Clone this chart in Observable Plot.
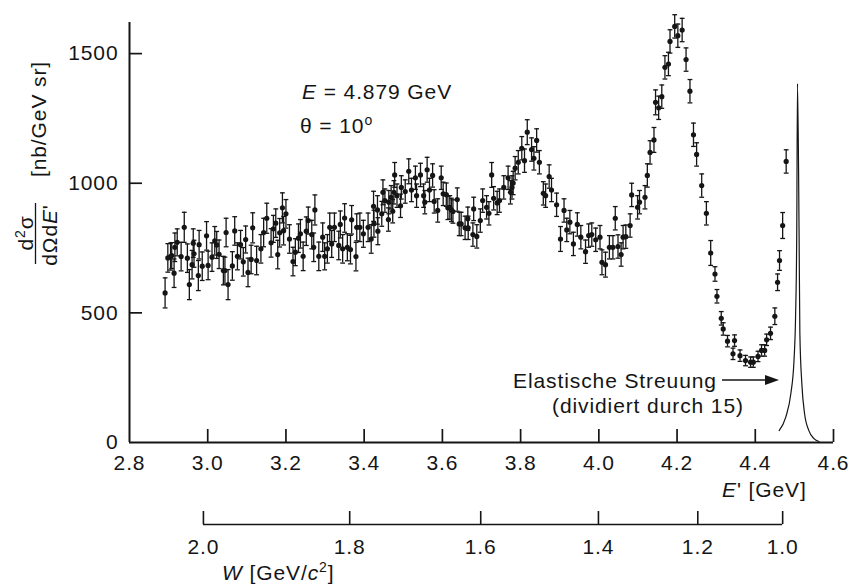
<!DOCTYPE html>
<html><head><meta charset="utf-8">
<script src="https://cdn.jsdelivr.net/npm/d3@7"></script>
<script src="https://cdn.jsdelivr.net/npm/@observablehq/plot@0.6"></script>
<style>
html,body{margin:0;padding:0;background:#fff;}
#chart svg{display:block}
</style>
</head><body><div id="chart"></div>
<script>
// Measured points: scattered energy E' [GeV], cross-section [nb/GeV sr], error bar half-length
const ePrime = [
2.891,2.898,2.905,2.908,2.914,2.916,2.922,2.932,2.940,2.948,
2.953,2.960,2.963,2.965,2.976,2.978,2.986,2.997,3.001,3.011,
3.018,3.023,3.029,3.040,3.044,3.047,3.052,3.063,3.069,3.076,
3.084,3.091,3.097,3.103,3.111,3.115,3.125,3.136,3.143,3.151,
3.162,3.168,3.174,3.179,3.184,3.191,3.194,3.200,3.209,3.218,
3.224,3.232,3.237,3.244,3.252,3.257,3.266,3.271,3.274,3.284,
3.294,3.299,3.306,3.312,3.317,3.324,3.335,3.339,3.345,3.350,
3.357,3.365,3.368,3.379,3.381,3.389,3.398,3.410,3.418,3.424,
3.425,3.434,3.435,
3.445,3.448,3.453,3.462,3.463,3.469,3.473,3.476,3.478,3.484,
3.493,3.495,3.505,3.514,3.521,3.531,3.534,3.544,3.552,3.555,
3.561,3.567,3.575,3.579,3.588,3.597,3.602,3.610,3.614,3.619,
3.623,3.627,3.638,3.643,3.648,3.658,3.665,3.666,3.678,3.680,
3.688,3.697,3.703,3.713,3.719,3.726,3.731,3.740,3.746,3.757,
3.768,3.774,3.778,3.781,3.786,3.794,3.803,3.810,3.817,3.828,
3.834,3.841,3.848,3.858,3.864,3.873,3.879,3.892,3.902,3.911,
3.918,3.926,3.935,3.945,3.954,3.966,3.974,3.982,3.992,4.003,
4.008,4.017,4.027,4.036,4.042,4.049,4.057,4.062,4.069,4.080,
4.084,4.099,4.104,4.118,4.124,4.131,
4.141,4.145,4.153,4.161,4.169,4.178,4.182,4.194,4.202,4.213,
4.223,4.233,4.242,4.250,4.263,4.275,4.286,4.297,4.302,4.313,
4.318,4.329,4.343,4.347,4.361,4.375,4.388,4.395,4.407,4.416,
4.424,4.429,4.439,4.450,4.457,4.462,4.470,4.479
];
const sigma = [
577,712,717,721,653,753,772,717,830,711,
609,686,769,728,644,763,680,797,683,715,
778,762,726,663,663,810,609,681,816,718,
763,697,783,656,706,828,702,747,810,865,
770,824,846,725,809,905,817,882,785,698,
734,788,805,718,815,856,802,753,897,718,
792,718,747,830,766,830,760,841,747,866,
753,744,859,717,830,830,805,830,785,911,
844,897,815,
882,965,933,860,927,946,892,965,1032,952,
913,984,968,1046,974,1021,952,1032,952,927,
1052,974,1030,930,895,1021,959,956,905,907,
897,891,937,843,843,828,863,828,802,901,
795,856,933,907,884,1032,942,924,933,984,
1021,965,984,1001,1058,1081,1135,1087,1197,1130,
1096,1165,1081,961,952,1026,974,917,785,895,
820,850,766,841,792,736,798,802,782,792,
695,686,753,753,865,756,725,792,794,837,
955,907,927,946,1030,1119,
1167,1312,1291,1334,1447,1460,1547,1605,1569,1591,
1477,1355,1187,1111,991,884,731,650,564,479,
438,391,342,393,335,316,310,310,332,355,
355,396,421,487,618,702,837,1084
];
const sigmaErr = [
58,55,52,50,55,55,52,55,58,55,
58,55,55,52,58,55,55,55,55,55,
55,52,55,55,52,55,58,55,55,52,
55,55,52,55,55,58,55,55,55,58,
55,52,55,55,55,58,55,55,55,55,
52,55,55,55,55,52,55,55,58,55,
55,52,55,55,52,55,55,52,55,55,
52,55,55,55,52,55,52,55,55,58,
52,55,52,
48,48,45,45,45,45,45,45,48,45,
45,45,45,48,45,45,45,45,45,45,
48,45,45,45,45,45,45,45,45,45,
45,45,45,45,45,45,45,45,45,45,
45,45,45,45,45,48,45,45,45,45,
45,45,45,45,45,45,45,45,48,45,
45,45,45,45,45,45,45,45,48,45,
45,45,45,45,45,45,45,45,45,45,
48,48,45,45,45,45,45,45,45,45,
45,45,45,45,45,45,
48,48,45,45,45,45,45,45,45,45,
45,45,45,45,45,45,48,28,26,26,
24,22,22,22,22,20,20,20,20,22,
22,22,24,32,32,38,50,45
];

// Elastic scattering peak (divided by 15)
const elasticE     = [4.461,4.478,4.491,4.499,4.503,4.506,4.508,4.512,4.514,4.519,4.526,4.537,4.550,4.563];
const elasticSigma = [46,98,189,316,483,806,1384,806,420,228,112,46,15,4];

// Axis ticks
const xTicks = [2.8,3.0,3.2,3.4,3.6,3.8,4.0,4.2,4.4,4.6];
const yTicks = [0,500,1000,1500];
// Secondary axis: invariant mass W and the E' where each W tick sits
const wLabels = ["2.0","1.8","1.6","1.4","1.2","1.0"];
const wTickE  = [2.989,3.363,3.698,3.999,4.253,4.470];

const idx = d3.range(ePrime.length);
const cap = {draw(ctx){ ctx.moveTo(-2.4,0); ctx.lineTo(2.4,0); }};
const ink = "#151515";

const plot = Plot.plot({
  width: 850, height: 584,
  marginLeft: 129, marginRight: 17, marginTop: 22, marginBottom: 142,
  style: {fontFamily: "'Liberation Sans', Arial, Helvetica, sans-serif", fontSize: "21px", letterSpacing: "0.9px", background: "white", color: ink, overflow: "visible"},
  x: {domain: [2.8, 4.6]},
  y: {domain: [0, 1620]},
  marks: [
    Plot.ruleY([0], {stroke: ink, strokeWidth: 2}),
    Plot.ruleX([2.8], {stroke: ink, strokeWidth: 2}),
    Plot.tickX(xTicks.slice(1), {x: d => d, insetTop: 407, stroke: ink, strokeWidth: 1.7}),
    Plot.tickY(yTicks.slice(1), {y: d => d, insetRight: 691, stroke: ink, strokeWidth: 1.7}),
    Plot.axisX({ticks: xTicks, tickSize: 0, tickPadding: 13, tickFormat: d3.format(".1f"), label: null, fill: ink}),
    Plot.axisY({ticks: yTicks, tickSize: 0, tickPadding: 11, tickFormat: d3.format("d"), label: null, fill: ink}),
    // W axis below
    Plot.ruleY([0], {x1: () => wTickE[0], x2: () => wTickE[wTickE.length - 1], dy: 82, stroke: ink, strokeWidth: 1.6}),
    Plot.tickX(wTickE, {x: d => d, insetTop: 407, dy: 82, stroke: ink, strokeWidth: 1.6}),
    Plot.text(wTickE, {x: d => d, y: () => 0, text: (d, i) => wLabels[i], dy: 105, fill: ink}),
    // elastic peak
    Plot.line(elasticE.map((e, i) => [e, elasticSigma[i]]), {x: d => d[0], y: d => d[1], curve: "monotone-x", stroke: ink, strokeWidth: 1.2}),
    // error bars
    Plot.ruleX(idx, {x: i => ePrime[i], y1: i => sigma[i] - sigmaErr[i], y2: i => sigma[i] + sigmaErr[i], stroke: ink, strokeWidth: 1.3}),
    Plot.dot(idx, {x: i => ePrime[i], y: i => sigma[i] + sigmaErr[i], symbol: cap, r: 2, stroke: ink, strokeWidth: 1.3}),
    Plot.dot(idx, {x: i => ePrime[i], y: i => sigma[i] - sigmaErr[i], symbol: cap, r: 2, stroke: ink, strokeWidth: 1.3}),
    Plot.dot(idx, {x: i => ePrime[i], y: i => sigma[i], r: 2.6, fill: ink, stroke: "none"})
  ]
});
document.getElementById("chart").appendChild(plot);

// Labels and annotations
const svg = d3.select(plot);
const lab = svg.append("g").attr("fill", ink).attr("text-anchor", "start").style("font-size", "21px");

// y label: fraction d²σ / dΩdE'
const num = lab.append("text").attr("transform", "translate(33,233) rotate(-90)").attr("text-anchor", "middle");
num.append("tspan").text("d");
num.append("tspan").attr("dy", -8).style("font-size", "14px").text("2");
num.append("tspan").attr("dy", 8).text("σ");
lab.append("line").attr("x1", 35.5).attr("x2", 35.5).attr("y1", 203).attr("y2", 264).attr("stroke", ink).attr("stroke-width", 1.3);
const den = lab.append("text").attr("transform", "translate(57,235) rotate(-90)").attr("text-anchor", "middle");
den.append("tspan").text("dΩd");
den.append("tspan").style("font-style", "italic").text("E");
den.append("tspan").text("'");
lab.append("text").attr("transform", "translate(46,119) rotate(-90)").attr("text-anchor", "middle").text("[nb/GeV sr]");

// x label
const xl = lab.append("text").attr("x", 722).attr("y", 497);
xl.append("tspan").style("font-style", "italic").text("E");
xl.append("tspan").text("' [GeV]");

// W label
const wl = lab.append("text").attr("x", 222).attr("y", 580);
wl.append("tspan").style("font-style", "italic").text("W");
wl.append("tspan").text(" [GeV/");
wl.append("tspan").style("font-style", "italic").text("c");
wl.append("tspan").attr("dy", -8).style("font-size", "14px").text("2");
wl.append("tspan").attr("dy", 8).text("]");

// beam energy and angle
const t1 = lab.append("text").attr("x", 302).attr("y", 99);
t1.append("tspan").style("font-style", "italic").text("E");
t1.append("tspan").text(" = 4.879 GeV");
const t2 = lab.append("text").attr("x", 300).attr("y", 133);
t2.append("tspan").text("θ = 10");
t2.append("tspan").attr("dy", -8).style("font-size", "14px").text("o");

// elastic annotation
lab.append("text").attr("x", 513).attr("y", 388).text("Elastische Streuung");
lab.append("text").attr("x", 552).attr("y", 413).text("(dividiert durch 15)");
lab.append("line").attr("x1", 722).attr("x2", 768).attr("y1", 380).attr("y2", 380).attr("stroke", ink).attr("stroke-width", 1.3);
lab.append("path").attr("d", "M779,380 L765,375 L765,385 Z").attr("fill", ink);
</script>
</body></html>
